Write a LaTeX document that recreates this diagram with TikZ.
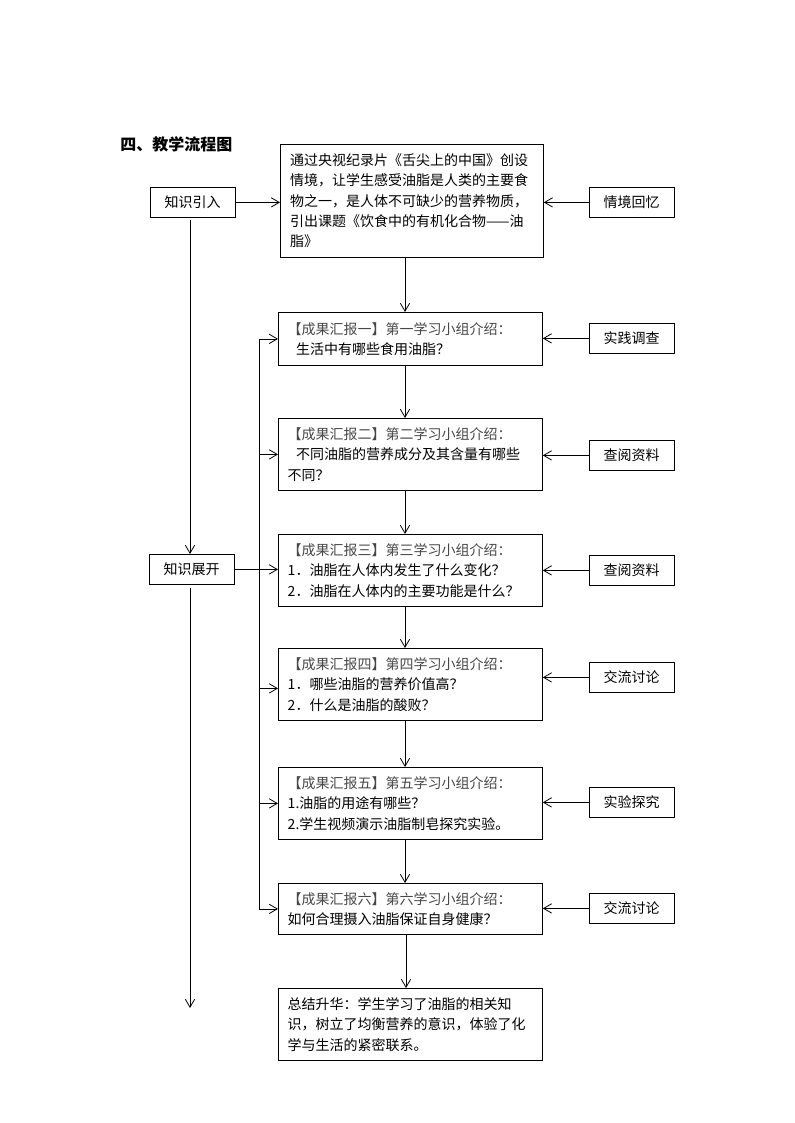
\documentclass[tikz,border=0pt]{standalone}
\usepackage{fontspec}
\newfontfamily\cjk{Noto Sans CJK SC}
\usetikzlibrary{arrows.meta}
\begin{document}
\begin{tikzpicture}[x=0.75pt,y=-0.75pt,
  line width=0.6pt,
  arr/.style={-{Straight Barb[length=6pt,width=7pt,line width=0.6pt]}},
  txt/.style={font=\cjk\fontsize{10.5pt}{15.2pt}\selectfont},
  mainbox/.style={draw, txt, anchor=north west, align=left, inner xsep=7pt, inner ysep=0pt,
    text width=184pt, minimum width=198pt},
  sidebox/.style={draw, txt, anchor=north west, inner sep=0pt, minimum width=63.5pt, minimum height=22.5pt},
  hd/.style={color=black!72}
]
\useasboundingbox (0,0) rectangle (794,1123);

\node[anchor=west, inner sep=0pt, font=\cjk\bfseries\fontsize{12pt}{14pt}\selectfont] (title) at (120,144) {四、教学流程图};

% main column
\node[mainbox, minimum height=84.75pt, text width=182.5pt, minimum width=197.25pt] (top) at (280,144)
 {通过央视纪录片《舌尖上的中国》创设\\情境，让学生感受油脂是人类的主要食\\物之一，是人体不可缺少的营养物质，\\引出课题《饮食中的有机化合物——油\\脂》};
\node[mainbox, minimum height=39.75pt] (b1) at (278,312)
 {{\color{black!72}【成果汇报一】第一学习小组介绍：}\\\hspace*{0.6em}生活中有哪些食用油脂？};
\node[mainbox, minimum height=54pt] (b2) at (278,418)
 {{\color{black!72}【成果汇报二】第二学习小组介绍：}\\\hspace*{0.6em}不同油脂的营养成分及其含量有哪些\\不同？};
\node[mainbox, minimum height=54pt] (b3) at (278,534)
 {{\color{black!72}【成果汇报三】第三学习小组介绍：}\\1．油脂在人体内发生了什么变化？\\2．油脂在人体内的主要功能是什么？};
\node[mainbox, minimum height=54pt] (b4) at (278,648)
 {{\color{black!72}【成果汇报四】第四学习小组介绍：}\\1．哪些油脂的营养价值高？\\2．什么是油脂的酸败？};
\node[mainbox, minimum height=54pt] (b5) at (278,767)
 {{\color{black!72}【成果汇报五】第五学习小组介绍：}\\1.油脂的用途有哪些？\\2.学生视频演示油脂制皂探究实验。};
\node[mainbox, minimum height=38.25pt] (b6) at (278,883)
 {{\color{black!72}【成果汇报六】第六学习小组介绍：}\\如何合理摄入油脂保证自身健康？};
\node[mainbox, minimum height=54pt] (fin) at (278,988)
 {总结升华：学生学习了油脂的相关知\\识，树立了均衡营养的意识，体验了化\\学与生活的紧密联系。};

% left boxes
\node[sidebox] (yr) at (150,187) {知识引入};
\node[sidebox] (zk) at (149,554) {知识展开};

% right boxes
\node[sidebox] (r0) at (589,187) {情境回忆};
\node[sidebox] (r1) at (589,323) {实践调查};
\node[sidebox] (r2) at (589,440) {查阅资料};
\node[sidebox] (r3) at (589,555) {查阅资料};
\node[sidebox] (r4) at (589,662) {交流讨论};
\node[sidebox] (r5) at (589,787) {实验探究};
\node[sidebox] (r6) at (589,893) {交流讨论};

% helper coordinates
\coordinate (cx) at (405,0);
\coordinate (cx2) at (406,0);
\coordinate (vl) at (259,0);
\coordinate (lend) at (190,1008);

% down arrows in main column
\draw[arr] (top.south -| cx) -- (b1.north -| cx);
\draw[arr] (b1.south -| cx) -- (b2.north -| cx);
\draw[arr] (b2.south -| cx) -- (b3.north -| cx);
\draw[arr] (b3.south -| cx) -- (b4.north -| cx);
\draw[arr] (b4.south -| cx) -- (b5.north -| cx);
\draw[arr] (b5.south -| cx) -- (b6.north -| cx);
\draw[arr] (b6.south -| cx2) -- (fin.north -| cx2);

% right side arrows
\draw[arr] (r0.west) -- (top.east |- r0.west);
\draw[arr] (r1.west) -- (b1.east |- r1.west);
\draw[arr] (r2.west) -- (b2.east |- r2.west);
\draw[arr] (r3.west) -- (b3.east |- r3.west);
\draw[arr] (r4.west) -- (b4.east |- r4.west);
\draw[arr] (r5.west) -- (b5.east |- r5.west);
\draw[arr] (r6.west) -- (b6.east |- r6.west);

% left side
\draw[arr] (yr.east) -- (top.west |- yr.east);
\draw[arr] (yr.south -| lend) ++(0,2) -- (zk.north -| lend);
\draw[arr] (zk.south -| lend) ++(0,3) -- (lend);
\draw[arr] (zk.east) -- (b3.west |- zk.east);

% inner distribution line
\draw (vl |- b1.west) -- (vl |- b6.west);
\draw[arr] (vl |- b1.west) -- (b1.west);
\draw[arr] (vl |- b2.west) -- (b2.west);
\draw[arr] ([yshift=-3pt]vl |- b4.west) -- ([yshift=-3pt]b4.west);
\draw[arr] (vl |- b5.west) -- (b5.west);
\draw[arr] (vl |- b6.west) -- (b6.west);
\end{tikzpicture}
\end{document}
